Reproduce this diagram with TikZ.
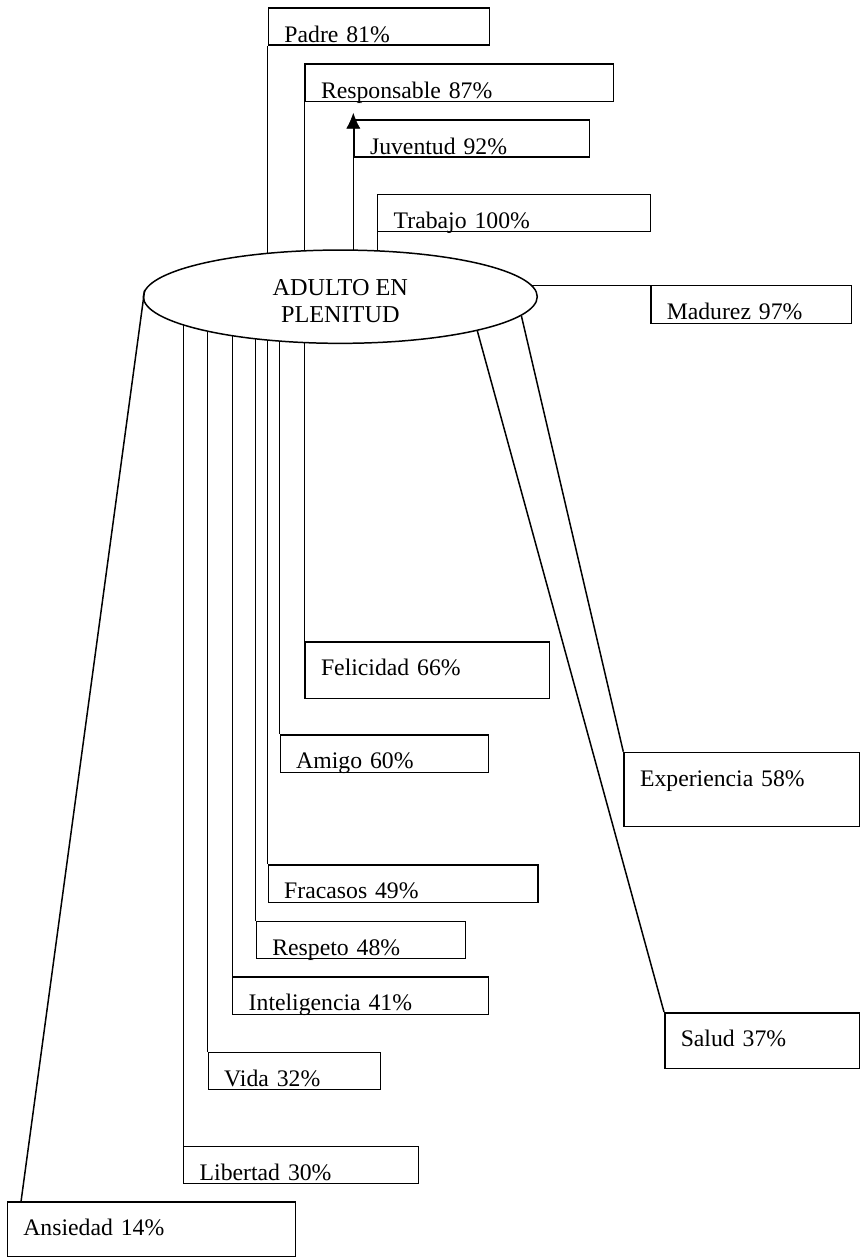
\documentclass[tikz,border=0pt]{standalone}
\usepackage{fontspec}
\setmainfont{Liberation Serif}
\usetikzlibrary{shapes,arrows.meta,positioning,backgrounds}

\begin{document}
\begin{tikzpicture}[x=0.02cm, y=-0.02cm, line width=0.85pt]
    % Estilos
    \tikzstyle{caja} = [rectangle, draw, anchor=north west, inner xsep=0.32cm,
    inner ysep=0pt, align=left, text height=0.68cm, font=\fontsize{13.5}{15}\selectfont]
    \tikzstyle{centro} = [ellipse, draw, fill=white, minimum width=7.88cm,
    minimum height=1.866cm, inner sep=0pt, align=center, text height=1.02cm,
    text depth=0cm, font=\fontsize{13.8}{15.3}\selectfont]

    \useasboundingbox (0,0) rectangle (859,1257);

    \node [centro] (adulto) at (340.3,296.7) {ADULTO EN\\PLENITUD};

    % Arriba
    \node [caja, text width=3.786cm, text depth=0.06cm] (padre) at (267.7,7.3) {Padre 81\%};
    \node [caja, text width=5.534cm, text depth=0.068cm] (responsable) at (304.3,63.3) {Responsable 87\%};
    \node [caja, text width=4.066cm, text depth=0.06cm] (juventud) at (353.3,119.3) {Juventud 92\%};
    \node [caja, text width=4.82cm, text depth=0.06cm] (trabajo) at (377,194) {Trabajo 100\%};
    \node [caja, text width=3.38cm, text depth=0.08cm] (madurez) at (650,285) {Madurez 97\%};

    % Abajo
    \node [caja, text width=4.254cm, text depth=0.454cm] (felicidad) at (304.3,641) {Felicidad 66\%};
    \node [caja, text width=3.53cm, text depth=0.08cm] (amigo) at (279.5,734) {Amigo 60\%};
    \node [caja, text width=4.074cm, text depth=0.806cm] (experiencia) at (623.3,751.7) {Experiencia 58\%};
    \node [caja, text width=4.76cm, text depth=0.08cm] (fracasos) at (267.5,864) {Fracasos 49\%};
    \node [caja, text width=3.548cm, text depth=0.066cm] (respeto) at (255.6,920.7) {Respeto 48\%};
    \node [caja, text width=4.48cm, text depth=0.08cm] (inteligencia) at (232,976) {Inteligencia 41\%};
    \node [caja, text width=3.26cm, text depth=0.44cm] (salud) at (664,1012) {Salud 37\%};
    \node [caja, text width=2.81cm, text depth=0.066cm] (vida) at (207.5,1051.7) {Vida 32\%};
    \node [caja, text width=4.06cm, text depth=0.06cm] (libertad) at (183,1145.7) {Libertad 30\%};
    \node [caja, text width=5.128cm, text depth=0.42cm] (ansiedad) at (6.6,1201) {Ansiedad 14\%};

    \begin{scope}[on background layer]
        \draw (padre.south west) -- (padre.south west |- adulto.center);
        \draw (responsable.south west) -- (responsable.south west |- adulto.center);
        \draw [-{Latex[length=9pt,width=8pt]}] (juventud.north west |- adulto.center) -- ([yshift=0.13cm]juventud.north west);
        \draw (trabajo.south west) -- (trabajo.south west |- adulto.center);
        \draw (madurez.north west) -- (madurez.north west -| adulto.center);
        \foreach \nombre in {felicidad, amigo, fracasos, respeto, inteligencia, vida, libertad}
            \draw (\nombre.north west) -- (\nombre.north west |- adulto.center);
    \end{scope}

    \draw ([xshift=0.29cm]ansiedad.north west) -- (adulto.178);
    \draw (salud.north west) -- (adulto.346);
    \draw (experiencia.north west) -- (adulto.354);
\end{tikzpicture}
\end{document}
